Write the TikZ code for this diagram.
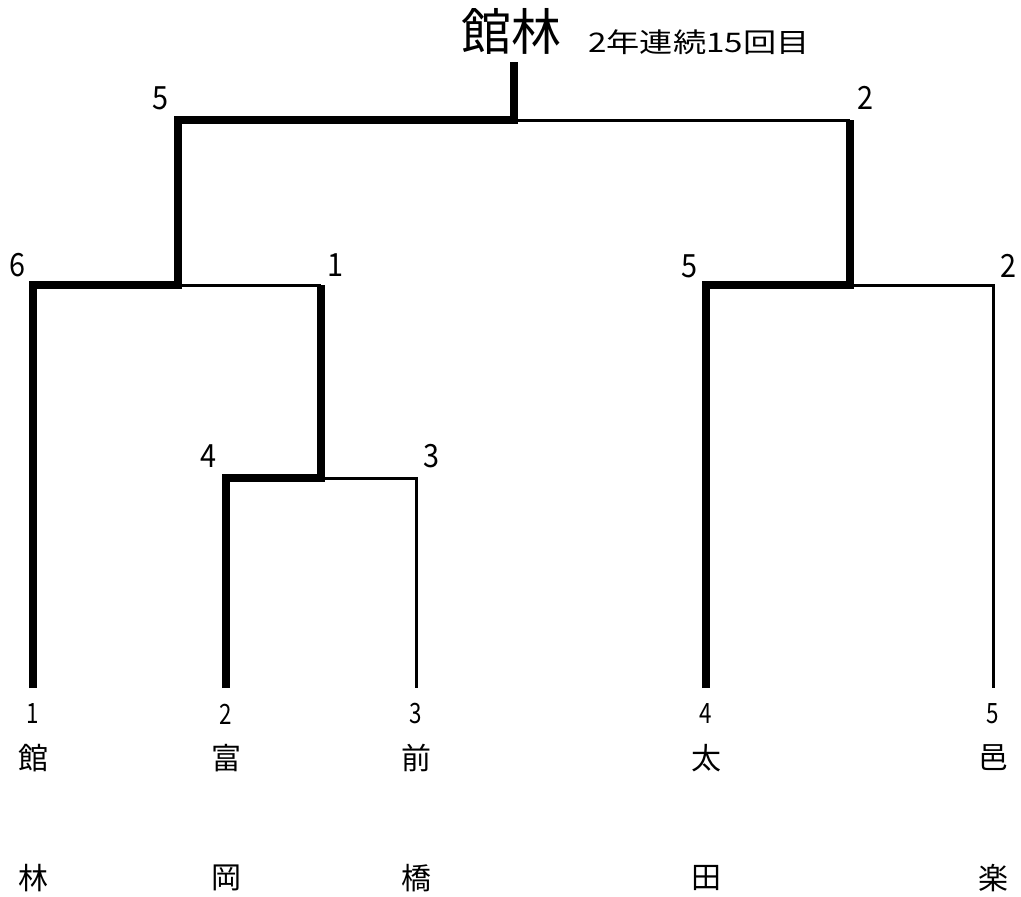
\documentclass[tikz,border=0pt]{standalone}
\usepackage{fontspec}
\setmainfont{Noto Sans CJK JP}
\begin{document}
\begin{tikzpicture}[x=1pt,y=-1pt,
  thinline/.style={line width=3pt,line join=miter},
  thickline/.style={line width=7.5pt,line join=miter},
  score/.style={inner sep=0pt,xscale=0.9,font=\fontsize{32}{32}\selectfont},
  seed/.style={inner sep=0pt,xscale=0.8,font=\fontsize{28}{28}\selectfont},
  team/.style={inner sep=0pt,font=\fontsize{30}{30}\selectfont}]
\useasboundingbox (0,0) rectangle (1021,897);
% joints
\coordinate (b1) at (33,688);
\coordinate (b2) at (226,688);
\coordinate (b3) at (416,688);
\coordinate (b4) at (706,688);
\coordinate (b5) at (993,688);
\coordinate (t1) at (33,285);
\coordinate (t2) at (226,478);
\coordinate (t3) at (416,478);
\coordinate (t4) at (706,285);
\coordinate (t5) at (993,285);
\coordinate (m23) at (321,478);
\coordinate (m23t) at (321,285);
\coordinate (m1) at (178,285);
\coordinate (m1t) at (178,120);
\coordinate (m45) at (850,285);
\coordinate (m45t) at (850,120);
\coordinate (f) at (514,120);
\coordinate (ft) at (514,62);
% thin (losing) lines
\draw[thinline] (m1) -- (m23t);
\draw[thinline] (m23) -- (t3) -- (b3);
\draw[thinline] (m45) -- (t5) -- (b5);
\draw[thinline] (f) -- (m45t);
% thick (winning) lines
\draw[thickline] (b1) -- (t1) -- (m1) -- (m1t) -- (f) -- (ft);
\draw[thickline] (b2) -- (t2) -- (m23) -- (m23t);
\draw[thickline] (b4) -- (t4) -- (m45) -- (m45t);
% title
\node[inner sep=0pt,font=\fontsize{50}{50}\selectfont] (champ) at (511,31) {館林};
\node[inner sep=0pt,xscale=1.23,font=\fontsize{27}{27}\selectfont] (sub) at (699,42) {2年連続15回目};
% scores
\node[score] (s1) at (160,98) {5};
\node[score] (s2) at (865,98) {2};
\node[score] (s3) at (17,265) {6};
\node[score] (s4) at (335,265) {1};
\node[score] (s5) at (689,266) {5};
\node[score] (s6) at (1008,266) {2};
\node[score] (s7) at (208,456) {4};
\node[score] (s8) at (431,456) {3};
% seeds
\node[seed] (n1) at (33,714) {1};
\node[seed] (n2) at (226,714) {2};
\node[seed] (n3) at (416,714) {3};
\node[seed] (n4) at (706,714) {4};
\node[seed] (n5) at (993,714) {5};
% team names
\node[team] (a1) at (33,758) {館};
\node[team] (a2) at (226,758) {富};
\node[team] (a3) at (416,758) {前};
\node[team] (a4) at (706,758) {太};
\node[team] (a5) at (993,758) {邑};
\node[team] (c1) at (33,878) {林};
\node[team] (c2) at (226,878) {岡};
\node[team] (c3) at (416,878) {橋};
\node[team] (c4) at (706,878) {田};
\node[team] (c5) at (993,878) {楽};
\end{tikzpicture}
\end{document}
